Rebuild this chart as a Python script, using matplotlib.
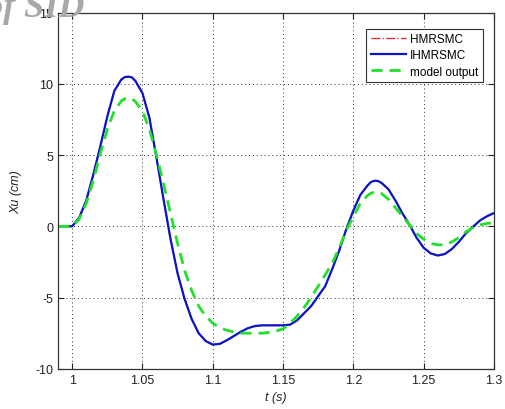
import matplotlib
matplotlib.use("Agg")
import matplotlib.pyplot as plt

# time axis (s)
t = [0.990, 0.995, 1.000, 1.005, 1.010, 1.015, 1.020, 1.025, 1.030, 1.035,
     1.0375, 1.040, 1.0425, 1.045, 1.050, 1.055, 1.060, 1.065, 1.070, 1.075,
     1.080, 1.085, 1.090, 1.095, 1.100, 1.105, 1.110, 1.115, 1.120, 1.125,
     1.130, 1.135, 1.140, 1.145, 1.150, 1.155, 1.160, 1.165, 1.170, 1.175,
     1.180, 1.185, 1.190, 1.195, 1.200, 1.205, 1.210, 1.2125, 1.215, 1.2175,
     1.220, 1.225, 1.230, 1.235, 1.240, 1.245, 1.250, 1.255, 1.260, 1.265,
     1.270, 1.275, 1.280, 1.285, 1.290, 1.295, 1.300]

ihmrsmc = [0.0, 0.0, 0.0, 0.6, 1.8, 3.6, 5.6, 7.7, 9.5, 10.3,
           10.47, 10.5, 10.45, 10.2, 9.35, 7.6, 4.8, 1.9, -0.9, -3.3,
           -5.1, -6.5, -7.5, -8.05, -8.3, -8.25, -8.0, -7.7, -7.4, -7.15,
           -7.0, -6.95, -6.95, -6.95, -6.95, -6.9, -6.6, -6.1, -5.6, -4.9,
           -4.2, -3.0, -1.7, -0.2, 1.1, 2.2, 2.85, 3.1, 3.2, 3.18,
           3.05, 2.6, 1.8, 0.9, 0.1, -0.8, -1.5, -1.9, -2.05, -1.95,
           -1.6, -1.1, -0.5, -0.05, 0.4, 0.7, 0.93]

# HMRSMC lies under the IHMRSMC curve in the figure
hmrsmc = [0.0, 0.0, 0.0, 0.6, 1.8, 3.6, 5.6, 7.7, 9.5, 10.3,
          10.47, 10.5, 10.45, 10.2, 9.35, 7.6, 4.8, 1.9, -0.9, -3.3,
          -5.1, -6.5, -7.5, -8.05, -8.3, -8.25, -8.0, -7.7, -7.4, -7.15,
          -7.0, -6.95, -6.95, -6.95, -6.95, -6.9, -6.6, -6.1, -5.6, -4.9,
          -4.2, -3.0, -1.7, -0.2, 1.1, 2.2, 2.85, 3.1, 3.2, 3.18,
          3.05, 2.6, 1.8, 0.9, 0.1, -0.8, -1.5, -1.9, -2.05, -1.95,
          -1.6, -1.1, -0.5, -0.05, 0.4, 0.7, 0.93]

model_output = [0.0, 0.0, 0.0, 0.5, 1.6, 3.2, 5.1, 6.8, 8.1, 8.8,
                8.95, 9.0, 8.95, 8.75, 8.1, 6.8, 5.0, 3.0, 0.9, -1.2,
                -3.1, -4.5, -5.6, -6.3, -6.8, -7.1, -7.3, -7.4, -7.5, -7.5,
                -7.5, -7.5, -7.45, -7.35, -7.2, -6.8, -6.3, -5.7, -5.0, -4.2,
                -3.4, -2.6, -1.5, -0.3, 0.7, 1.6, 2.15, 2.32, 2.4, 2.38,
                2.3, 1.9, 1.3, 0.7, 0.1, -0.5, -0.9, -1.2, -1.3, -1.3,
                -1.1, -0.8, -0.4, -0.1, 0.1, 0.2, 0.25]

x_ticks = [1.0, 1.05, 1.1, 1.15, 1.2, 1.25, 1.3]
x_tick_labels = ["1", "1.05", "1.1", "1.15", "1.2", "1.25", "1.3"]
y_ticks = [-10, -5, 0, 5, 10, 15]

plt.rcParams["font.family"] = ["Liberation Sans", "DejaVu Sans"]
plt.rcParams["axes.unicode_minus"] = False

fig = plt.figure(figsize=(5.05, 4.1), dpi=100)
ax = fig.add_axes([0.115, 0.098, 0.863, 0.869])

ax.plot(t, hmrsmc, color="#e0303a", linestyle="-.", linewidth=1.0, label="HMRSMC")
ax.plot(t, ihmrsmc, color="#0a14c8", linestyle="-", linewidth=1.6, label="IHMRSMC")
ax.plot(t, model_output, color="#22e02a", linestyle=(0, (4, 2.5)), linewidth=2.0,
        label="model output")

ax.set_xlim(0.99, 1.3)
ax.set_ylim(-10, 15)
ax.set_xticks(x_ticks)
ax.set_xticklabels(x_tick_labels)
ax.set_yticks(y_ticks)
ax.tick_params(direction="in", top=True, right=True, labelsize=9,
               colors="#222222", length=4, width=0.8)
ax.grid(True, color="#333333", linestyle=(0, (1, 3)), linewidth=0.7)
for s in ax.spines.values():
    s.set_color("#333333")
    s.set_linewidth(0.9)

ax.set_xlabel("t (s)", style="italic", fontsize=9, color="#222222", labelpad=4)
ax.set_ylabel("Xu (cm)", style="italic", fontsize=9, color="#222222", labelpad=9)

leg = ax.legend(loc="upper right", bbox_to_anchor=(0.975, 0.955), fontsize=8.5,
                fancybox=False, framealpha=1, edgecolor="#333333",
                handlelength=3.0, handletextpad=0.3, borderpad=0.4,
                labelspacing=0.35, borderaxespad=0)
leg.get_frame().set_linewidth(0.8)

# watermark left over in the source image
fig.text(-0.03, 0.958, "of SID", fontsize=26, style="italic", weight="bold",
         family="Liberation Serif", color="#a8a8a8", va="baseline", ha="left")

fig.savefig("out.png", dpi=100)
